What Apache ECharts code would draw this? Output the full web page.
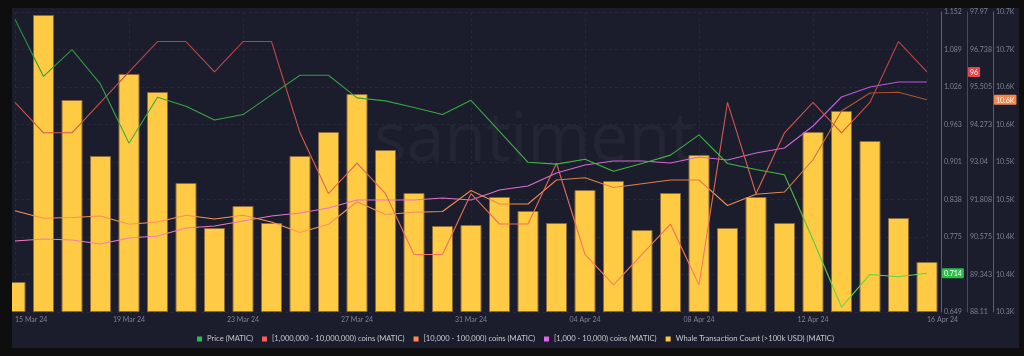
<!DOCTYPE html>
<html><head><meta charset="utf-8">
<script src="https://cdn.jsdelivr.net/npm/echarts@6/dist/echarts.min.js"></script>
<style>
html,body{margin:0;padding:0;background:#0e0e0e;width:1024px;height:356px;overflow:hidden}
#c{position:absolute;left:12px;top:8px;width:1007px;height:340px;background:#1b1d2c}
</style></head><body><div id="c"></div>
<script>
const dates = ['15 Mar 24','16 Mar 24','17 Mar 24','18 Mar 24','19 Mar 24','20 Mar 24','21 Mar 24','22 Mar 24','23 Mar 24','24 Mar 24','25 Mar 24','26 Mar 24','27 Mar 24','28 Mar 24','29 Mar 24','30 Mar 24','31 Mar 24','01 Apr 24','02 Apr 24','03 Apr 24','04 Apr 24','05 Apr 24','06 Apr 24','07 Apr 24','08 Apr 24','09 Apr 24','10 Apr 24','11 Apr 24','12 Apr 24','13 Apr 24','14 Apr 24','15 Apr 24','16 Apr 24'];
const price = [1.140,1.044,1.089,1.031,0.932,1.009,0.994,0.971,0.980,1.013,1.046,1.046,1.008,1.003,0.992,0.980,1.004,0.952,0.900,0.897,0.905,0.885,0.898,0.912,0.946,0.898,0.888,0.879,0.770,0.657,0.712,0.708,0.714];
const holders1M = [95,94,94,95,96,97,97,96,97,97,94,92,93,92,90,90,92,91,91,93,90,89,90,91,89,95,92,94,95,94,95,97,96];
const holders10k = [10455,10445,10446,10448,10437,10440,10449,10444,10449,10440,10426,10437,10467,10450,10453,10454,10482,10464,10464,10496,10499,10486,10491,10496,10496,10462,10477,10480,10523,10588,10612,10613,10603];
const holders1k = [5071,5073,5072,5068,5074,5076,5084,5086,5091,5096,5099,5104,5112,5112,5112,5114,5112,5122,5126,5139,5147,5151,5151,5149,5155,5152,5159,5164,5186,5215,5225,5230,5230];
const whaleTx = [30,297,212,156,238,220,129,84,106,89,156,180,218,162,119,86,87,115,101,89,122,131,82,119,157,84,115,89,180,201,171,94,50];
const names = ['Price (MATIC)','[1,000,000 - 10,000,000) coins (MATIC)','[10,000 - 100,000) coins (MATIC)','[1,000 - 10,000) coins (MATIC)','Whale Transaction Count (>100k USD) (MATIC)'];
const legendColors = ['#27c04c','#ff5c5c','#ff8a4c','#e063ea','#ffc93f'];

const chart = echarts.init(document.getElementById('c'), null, {renderer:'canvas'});
const grad = (a,b) => new echarts.graphic.LinearGradient(0,0,0,1,[{offset:0,color:a},{offset:1,color:b}]);
const r3 = v => String(Math.round(v*1000+1e-6)/1000);
const labelStyle = {color:'#7d8291', fontSize:7, margin:3, fontFamily:'Lato'};
function badge(value, bg, fmt){
  return {show:true, type:'line', status:'show', value:value, triggerTooltip:false, triggerEmphasis:false,
    lineStyle:{opacity:0},
    label:{show:true, backgroundColor:bg, color:'#ffffff', fontSize:7, fontFamily:'Lato', padding:[2,2,1,2], borderRadius:1, margin:1, formatter:fmt}};
}
const last = a => a[a.length-1];
chart.setOption({
  animation:false,
  textStyle:{fontFamily:'Lato'},
  grid:{left:0.5, right:92, top:4, bottom:36, containLabel:false},
  graphic:[{type:'text', left:362, top:100, z:0, silent:true,
    style:{text:'santiment.', fontSize:68, fontFamily:'Open Sans', fill:'rgba(255,255,255,0.04)'}}],
  legend:{top:322, left:'center', itemWidth:5, itemHeight:5, icon:'rect', itemGap:9,
    textStyle:{color:'#c4c7cf', fontSize:7.6, fontFamily:'Lato'},
    data:names.map((n,i)=>({name:n, itemStyle:{color:legendColors[i], borderWidth:0}}))},
  xAxis:{type:'category', data:dates, boundaryGap:false,
    axisLine:{show:false}, axisTick:{show:false},
    axisLabel:{interval:3, color:'#7d8291', fontSize:7, margin:4, alignMinLabel:'left', alignMaxLabel:'left'},
    splitLine:{show:true, interval:3, lineStyle:{color:'#252838', type:[3,3], width:1}}},
  yAxis:[
    {type:'value', position:'right', offset:14, min:0.649, max:1.152, interval:0.062875,
      axisLine:{show:true, lineStyle:{color:'#238a3c'}}, axisTick:{show:false},
      axisLabel:Object.assign({formatter:v=>r3(v).padEnd(5,'0')}, labelStyle),
      splitLine:{show:true, lineStyle:{color:'#252838', type:[3,3]}},
      axisPointer:badge(last(price), '#2dbe48', p=>r3(p.value))},
    {type:'value', position:'right', offset:40, min:88.11, max:97.97, interval:1.2325,
      axisLine:{show:true, lineStyle:{color:'#8c2f3a'}}, axisTick:{show:false},
      axisLabel:Object.assign({formatter:v=>r3(v)}, labelStyle), splitLine:{show:false},
      axisPointer:badge(last(holders1M), '#e2474f', p=>String(Math.round(p.value)))},
    {type:'value', position:'right', offset:66, min:10320, max:10720, interval:50,
      axisLine:{show:true, lineStyle:{color:'#8f4e30'}}, axisTick:{show:false},
      axisLabel:Object.assign({formatter:v=>(v/1000).toFixed(1)+'K'}, labelStyle), splitLine:{show:false},
      axisPointer:badge(last(holders10k), '#f7884c', p=>(p.value/1000).toFixed(1)+'K')},
    {type:'value', show:false, min:5000, max:5300, splitLine:{show:false}},
    {type:'value', show:false, min:0, max:300, splitLine:{show:false}}
  ],
  series:[
    {name:names[4], type:'bar', yAxisIndex:4, data:whaleTx, barWidth:21, z:1,
      itemStyle:{color:'#ffca44', borderColor:'#8a6b3c', borderWidth:1}},
    {name:names[3], type:'line', yAxisIndex:3, data:holders1k, showSymbol:false, symbol:'none', z:3,
      color:legendColors[3], lineStyle:{width:1.1, color:grad('#b458de','#f27cc6')}},
    {name:names[2], type:'line', yAxisIndex:2, data:holders10k, showSymbol:false, symbol:'none', z:3,
      color:legendColors[2], lineStyle:{width:1.1, color:grad('#a9512f','#ff9a5c')}},
    {name:names[1], type:'line', yAxisIndex:1, data:holders1M, showSymbol:false, symbol:'none', z:3,
      color:legendColors[1], lineStyle:{width:1.1, color:grad('#b9403e','#ff8064')}},
    {name:names[0], type:'line', yAxisIndex:0, data:price, showSymbol:false, symbol:'none', z:4,
      color:legendColors[0], lineStyle:{width:1.1, color:grad('#1f8f3a','#66dc4a')}}
  ]
});
</script></body></html>
